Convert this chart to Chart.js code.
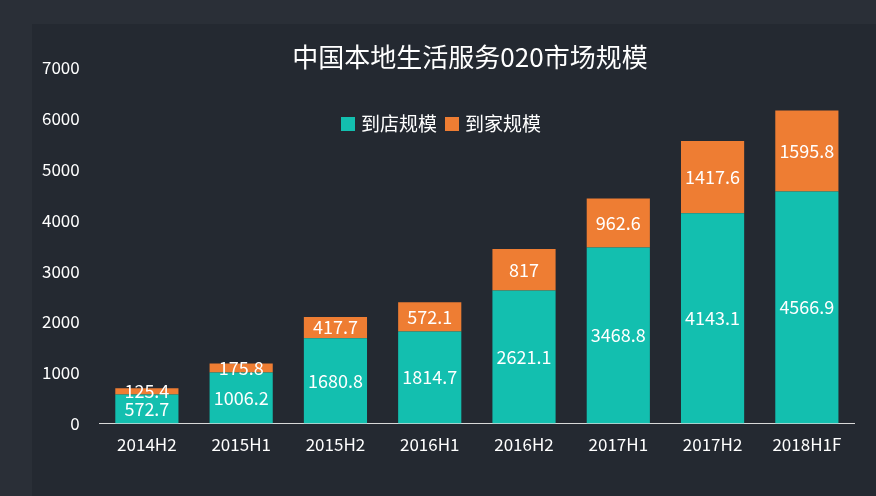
<!DOCTYPE html><html><head><meta charset="utf-8">
<script src="https://cdn.jsdelivr.net/npm/chart.js@4"></script>
<style>html,body{margin:0;background:#2a2f37;}#p{position:absolute;left:32px;top:24px;width:844px;height:472px;background:#242931;}#w{position:absolute;left:0;top:0;width:876px;height:496px;}</style></head><body>
<div id="p"></div><div id="w"><canvas id="c" width="876" height="496"></canvas></div>
<script>
const categories=["2014H2","2015H1","2015H2","2016H1","2016H2","2017H1","2017H2","2018H1F"];
const daodian=[572.7,1006.2,1680.8,1814.7,2621.1,3468.8,4143.1,4566.9];
const daojia=[125.4,175.8,417.7,572.1,817,962.6,1417.6,1595.8];
const yTicks=[0,1000,2000,3000,4000,5000,6000,7000];
const F="'Noto Sans CJK SC','Open Sans',sans-serif";
const labels={id:'lbl',afterDatasetsDraw(ch){const x=ch.ctx;x.save();x.font="18px "+F;x.fillStyle="#fff";x.textAlign="center";x.textBaseline="middle";
ch.data.datasets.forEach((d,i)=>{ch.getDatasetMeta(i).data.forEach((b,j)=>{x.fillText(String(d.data[j]),b.x,(b.y+b.base)/2);});});
x.font="26px "+F;x.fillText('中国本地生活服务020市场规模',470,57);
x.font="19px "+F;x.textAlign="left";
const items=[['到店规模','#13bfaf'],['到家规模','#ee7d33']];let px=341;
items.forEach(([t,c])=>{x.fillStyle=c;x.fillRect(px,117,14,14);x.fillStyle='#fff';x.fillText(t,px+20,124);px+=20+x.measureText(t).width+8;});
x.restore();}};
new Chart(document.getElementById('c'),{type:'bar',data:{labels:categories,datasets:[
{label:'到店规模',data:daodian,backgroundColor:'#13bfaf'},
{label:'到家规模',data:daojia,backgroundColor:'#ee7d33'}]},
options:{responsive:false,animation:false,layout:{padding:{left:30,right:22,top:68,bottom:38}},
datasets:{bar:{categoryPercentage:0.67,barPercentage:1}},
plugins:{title:{display:false},legend:{display:false},tooltip:{enabled:false}},
scales:{x:{stacked:true,grid:{display:false},border:{color:'#d9d9d9'},ticks:{color:'#fff',font:{family:F,size:17}}},
y:{stacked:true,min:0,max:7000,afterBuildTicks:a=>{a.ticks=yTicks.map(v=>({value:v}));},grid:{display:false},border:{display:false},ticks:{color:'#fff',padding:12,font:{family:F,size:17},callback:v=>String(v)}}}},
plugins:[labels]});
</script></body></html>
